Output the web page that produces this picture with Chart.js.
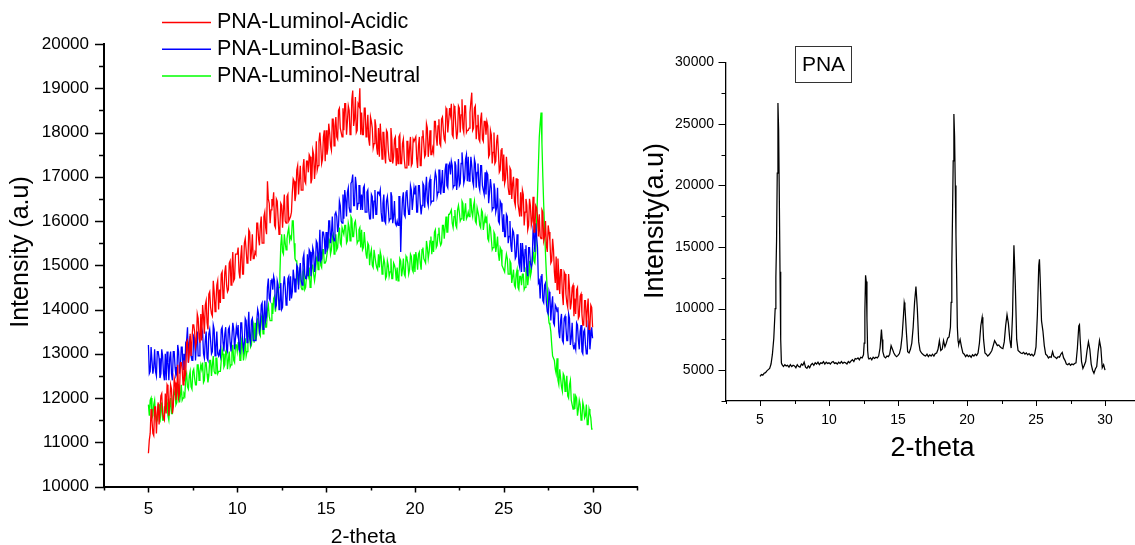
<!DOCTYPE html>
<html>
<head>
<meta charset="utf-8">
<script src="https://cdn.jsdelivr.net/npm/chart.js@4.4.1/dist/chart.umd.min.js"></script>
<style>
  html, body { margin:0; padding:0; background:#fff; overflow:hidden; }
  body { width:1135px; height:545px; position:relative; }
  .box { position:absolute; top:0; }
</style>
</head>
<body>
<div class="box" style="left:0;width:650px;height:550px"><canvas id="left" width="650" height="550" style="width:650px;height:550px"></canvas></div>
<div class="box" style="left:640px;width:510px;height:545px"><canvas id="right" width="510" height="545" style="width:510px;height:545px"></canvas></div>
<script>
// ---------------- DATA ----------------
// Left chart: readings at 2-theta = 5.0, 5.1, ... 30.0 (main) and 5.05, 5.15, ... 29.95 (mid)
const thetaStart = 5.0, thetaStep = 0.1;
const seriesNames = ['PNA-Luminol-Acidic', 'PNA-Luminol-Basic', 'PNA-Luminol-Neutral'];
const leftXTitle = '2-theta', leftYTitle = 'Intensity (a.u)';
const rightXTitle = '2-theta', rightYTitle = 'Intensity(a.u)';

const acidic = [
 10750,11200,11500,11150,11800,11650,11400,12050,11650,11500,
 11650,12250,11900,12200,11800,12350,12150,12000,12800,12650,
 12850,12550,13300,13000,12950,13650,13500,13250,13800,13250,
 13300,13850,14100,13700,14350,14050,13850,14400,14150,14650,
 14450,14800,14250,14850,14550,14450,15100,14950,14650,15250,
 15250,14850,15200,14800,15500,15350,15100,15750,15300,15150,
 15300,15950,15600,15900,15500,16100,15850,16900,16400,16250,
 16400,15900,16500,16050,15850,16350,16250,16000,16550,16000,
 16100,16650,16900,16600,17250,16950,16700,17200,16900,17350,
 17100,17450,16950,17500,17250,17150,17800,17700,17400,18050,
 18050,17650,18000,17600,18300,18150,17900,18500,18100,17900,
 18050,18650,18250,18500,18050,18950,18300,18000,18650,19000,
 18450,17950,18550,18050,17850,18350,18100,17750,18150,17500,
 17450,17850,18000,17500,18050,17600,17350,17850,17450,17900,
 17650,17900,17300,17750,17400,17200,17800,17650,17250,17850,
 17800,17400,17700,17250,17900,17750,17500,18100,17700,17500,
 17650,18250,17900,18150,17750,18300,18050,17800,18500,18250,
 18400,17950,18600,18150,18000,18550,18400,18100,18600,18000,
 18050,18450,18900,18100,18600,18150,17850,18300,17850,18250,
 17950,18150,17500,17950,17550,17300,17800,17550,17150,17650,
 17500,16950,17150,16600,17150,16850,16450,16950,16400,16100,
 16100,16600,16200,16350,15900,16350,16000,15750,16350,16100,
 16150,15600,16200,15650,15450,15900,15550,15100,15350,14600,
 14450,14800,14900,14350,14850,14350,14050,14500,14150,14550,
 14250,14450,13800,14300,13900,13650,14200,14000,13550,14100,
 13600
];
const acidicMid = [
 11050,11750,11200,11800,11200,11900,11400,12100,11550,12100,
 12300,11600,12300,11650,12450,11950,12750,12100,12800,12300,
 12450,13250,12800,13450,12950,13650,13150,13900,13350,13900,
 14100,13450,14200,13550,14400,13900,14650,13950,14550,14000,
 14150,14850,14350,15000,14400,15050,14550,15300,14700,15250,
 15400,14700,15450,14800,15600,15050,15800,15100,15700,15150,
 15250,15950,15450,16100,15500,16200,15700,16500,15950,16500,
 16650,15850,16450,15700,16400,15850,16600,15950,16600,16050,
 16200,16950,16450,17150,16600,17250,16700,17400,16850,17350,
 17500,16850,17600,16950,17800,17250,18000,17300,17900,17350,
 17500,18200,17700,18300,17700,18350,17850,18550,18000,18550,
 18650,17950,18600,17950,18750,18150,18800,18050,18600,17950,
 17950,18550,17900,18400,17700,18250,17650,18300,17650,18100,
 18200,17400,18000,17300,18000,17400,18100,17300,17850,17250,
 17300,17950,17300,17850,17200,17800,17250,17900,17300,17800,
 17900,17200,17900,17250,18050,17450,18200,17450,18050,17500,
 17550,18250,17700,18300,17700,18350,17850,18550,18000,18550,
 18650,17900,18550,17850,18600,18000,18750,18000,18600,18050,
 18100,18700,18050,18550,17850,18400,17800,18450,17800,18250,
 18250,17450,18050,17300,18000,17350,17950,17100,17600,16900,
 16850,17450,16750,17200,16500,17000,16350,16950,16250,16650,
 16700,15900,16500,15800,16500,15900,16550,15750,16300,15650,
 15650,16250,15550,16000,15300,15750,15050,15600,14850,15200,
 15150,14350,14900,14100,14800,14150,14800,14000,14500,13850,
 13900,14500,13850,14350,13650,14200,13600,14250,13600,14050
];

const basic = [
 13200,12600,13150,12700,12600,13050,12900,12550,12950,12400,
 12400,12800,12900,12550,13050,12700,12550,13050,12700,13150,
 13000,13250,13600,13250,12950,12850,13350,13250,12950,13450,
 13400,13000,13300,12900,13450,13300,13050,13550,13150,13000,
 13050,13550,13250,13450,13100,13550,13250,13050,13550,13350,
 13450,13100,13700,13300,13250,13750,13600,13350,13750,13300,
 13300,13750,13900,13600,14150,13850,13750,14500,14250,14650,
 14450,14650,14100,14550,14150,14000,14550,14500,14200,14750,
 14750,14400,14700,14400,14950,14850,14650,15150,14800,14700,
 14750,15300,15050,15300,15000,15500,15250,15100,15750,15600,
 15750,15400,16000,15700,15650,16150,16100,15900,16350,15950,
 16050,16500,16650,16300,16850,17050,16350,16800,16400,16800,
 16600,16750,16200,16650,16250,16050,16550,16450,16150,16650,
 16600,16200,16400,16000,16450,16300,16050,16550,16100,15950,
 16000,16550,15300,16500,16150,16650,16350,16150,16700,16500,
 16600,16200,16800,16400,16350,16800,16700,16450,16850,16400,
 16450,16900,17000,16650,17150,16850,16650,17150,16800,17250,
 17050,17250,16800,17250,16950,16800,17300,17250,16950,17500,
 17450,17000,17250,16800,17300,17100,16800,17250,16800,16600,
 16600,17050,16650,16750,16300,16700,16300,16000,16450,16150,
 16150,15650,16100,15650,15450,15800,15550,15200,15500,14950,
 14850,15250,15350,14900,15400,15050,15050,15700,15950,15400,
 14650,14750,14200,14550,14150,13900,14300,14100,13700,14100,
 13950,13500,13750,13300,13800,13600,13300,13800,13350,13200,
 13200,13700,13300,13500,13050,13500,13200,13000,13550,13350,
 13350
];
const basicMid = [
 12550,13150,12550,13100,12500,13050,12450,13100,12550,13000,
 13050,12400,13050,12400,13050,12500,13200,12550,13150,12650,
 12650,13300,12800,13400,12850,13400,12850,13500,12950,13450,
 13500,12900,13500,12850,13550,13000,13650,12950,13500,12950,
 12950,13600,13050,13600,13050,13600,13050,13700,13100,13600,
 13650,13050,13700,13100,13800,13250,13950,13250,13800,13300,
 13350,14000,13500,14100,13550,14200,13850,14700,14200,14700,
 14750,14050,14650,14000,14600,14050,14750,14100,14700,14200,
 14250,14900,14400,15000,14450,15050,14550,15250,14700,15250,
 15350,14750,15400,14850,15550,15100,15800,15150,15750,15250,
 15350,16000,15500,16100,15550,16200,15750,16450,16000,16600,
 16700,16100,16750,16200,16900,16350,17000,16250,16800,16250,
 16250,16800,16200,16700,16050,16600,16050,16700,16150,16650,
 16700,16000,16600,15950,16550,16000,16650,15950,16450,15900,
 15900,16550,16050,16650,16100,16700,16150,16800,16250,16750,
 16800,16200,16800,16150,16850,16300,17000,16350,16950,16450,
 16450,17100,16550,17150,16600,17150,16650,17300,16750,17300,
 17350,16750,17350,16700,17400,16850,17550,16850,17400,16900,
 16900,17450,16900,17400,16750,17300,16700,17250,16700,17100,
 17100,16400,16950,16250,16850,16200,16750,15950,16400,15750,
 15650,16150,15500,16000,15300,15750,15150,15700,15050,15500,
 15500,14850,15450,14750,15400,14950,15800,15300,15650,14600,
 14250,14800,14150,14600,13950,14400,13750,14300,13650,14050,
 14050,13350,13900,13250,13850,13300,13900,13200,13700,13100,
 13100,13650,13100,13650,13000,13550,13000,13650,13100,13600
];

const neutral = [
 11850,11950,11550,11850,11600,11500,11850,11700,11500,11800,
 11800,11600,11800,11650,12050,12050,11900,12300,12050,11950,
 12100,12450,12250,12500,12250,12600,12450,12300,12750,12600,
 12650,12350,12800,12550,12500,12850,12750,12600,12900,12550,
 12600,12850,13000,12750,13100,12850,12700,13050,12850,13200,
 13050,13250,12850,13200,13000,12950,13350,13350,13200,13650,
 13700,13450,13650,13400,13800,13750,13600,14000,13850,13750,
 13900,14300,14150,14400,14800,15700,15250,15500,15600,15850,
 15650,16000,15500,15100,14700,14900,14500,14850,14450,14750,
 14750,14500,15000,14800,14800,15200,15100,15000,15350,15050,
 15100,15400,15550,15350,15700,15500,15350,15700,15500,15850,
 15700,15900,15550,15850,16100,15650,15950,15800,15550,15850,
 15800,15400,15500,15150,15450,15250,15000,15350,15050,14900,
 14950,15200,14950,15050,14750,15000,14850,14700,15050,14900,
 14950,14700,15100,14900,14800,15200,15050,14900,15200,14850,
 14850,15150,15250,15050,15350,15150,15050,15400,15300,15650,
 15550,15750,15400,15700,15550,15500,15900,15850,15750,16150,
 16200,15950,16100,15900,16250,16200,16050,16400,16200,16050,
 16200,16500,16200,16350,16000,16300,16100,15850,16200,15950,
 15950,15600,15900,15600,15400,15700,15450,15250,15400,15000,
 14900,15100,15150,14800,15050,14750,14550,14800,14500,14750,
 14550,14800,14500,14850,14750,14750,15150,15100,15300,16600,
 17900,18450,17000,15800,14800,13900,13650,13200,12900,12650,
 12900,12300,12450,12150,12500,12350,12050,12300,11950,11750,
 11750,12000,11750,11850,11550,11800,11600,11400,11750,11550,
 11300
];
const neutralMid = [
 11600,12000,11600,11950,11450,11850,11450,11900,11500,11800,
 11900,11500,12000,11650,12150,11850,12300,11900,12300,12000,
 12050,12550,12200,12600,12200,12650,12300,12750,12400,12750,
 12800,12400,12800,12350,12850,12500,12950,12550,12900,12600,
 12600,13100,12700,13050,12650,13050,12750,13200,12800,13200,
 13250,12850,13300,12850,13350,13050,13500,13150,13550,13250,
 13300,13800,13450,13850,13450,13900,13600,14100,13750,14150,
 14250,13950,14450,14500,15450,15300,15700,15350,15750,15550,
 15600,16000,15150,15100,14550,14850,14450,14900,14500,14850,
 14950,14550,15000,14650,15150,14900,15350,14950,15350,15050,
 15100,15600,15250,15650,15250,15700,15400,15850,15450,15850,
 15900,15500,15950,15550,16050,15650,16000,15500,15800,15400,
 15350,15750,15250,15500,15000,15350,14950,15350,14950,15250,
 15300,14800,15150,14700,15100,14750,15150,14700,15000,14650,
 14650,15150,14750,15150,14750,15150,14800,15250,14900,15250,
 15300,14900,15300,14900,15400,15100,15550,15150,15550,15250,
 15300,15800,15450,15850,15450,15900,15600,16100,15750,16150,
 16250,15850,16250,15850,16350,16000,16450,16000,16400,16100,
 16100,16500,16100,16450,15950,16300,15900,16250,15800,16100,
 16050,15550,15850,15350,15750,15300,15650,15100,15350,14950,
 14850,15250,14800,15100,14600,14900,14500,14900,14450,14750,
 14800,14450,14900,14550,15100,14850,15300,15050,15950,17250,
 18200,17750,16350,15250,14450,13700,13500,12950,12850,12550,
 12400,12650,12250,12550,12150,12500,12000,12400,11850,12100,
 12050,11600,11950,11500,11900,11550,11850,11400,11650,11300
];

// Right chart (PNA): 2-theta positions and intensities
const pnaTheta = [
 5.0,5.1,5.2,5.3,5.4,5.5,5.6,5.7,5.8,5.9,6.0,6.1,6.15,6.2,6.25,6.3,6.35,6.4,6.45,6.5,6.55,6.6,
 6.7,6.8,6.9,7.0,7.1,7.2,7.3,7.4,7.5,7.6,7.7,7.8,7.9,8.0,8.1,8.2,8.3,8.4,8.5,8.6,
 8.7,8.8,8.9,9.0,9.1,9.2,9.3,9.4,9.5,9.6,9.7,9.8,9.9,10.0,10.1,10.2,10.3,10.4,10.5,10.6,
 10.7,10.8,10.9,11.0,11.1,11.2,11.3,11.4,11.5,11.6,11.7,11.8,11.9,12.0,12.1,12.2,12.3,12.4,12.5,12.55,
 12.6,12.65,12.7,12.75,12.8,12.85,12.9,13.0,13.1,13.2,13.3,13.4,13.5,13.6,13.7,13.8,13.85,13.9,14.0,14.1,
 14.2,14.3,14.4,14.5,14.6,14.7,14.8,14.9,15.0,15.1,15.2,15.3,15.4,15.45,15.5,15.6,15.7,15.8,15.9,16.0,
 16.1,16.2,16.3,16.4,16.5,16.6,16.7,16.8,16.9,17.0,17.1,17.2,17.3,17.4,17.5,17.6,17.7,17.8,17.9,18.0,
 18.1,18.2,18.3,18.4,18.5,18.6,18.7,18.8,18.85,18.9,18.95,19.0,19.05,19.1,19.15,19.2,19.25,19.3,19.35,19.4,
 19.5,19.6,19.7,19.8,19.9,
 20.0,20.1,20.2,20.3,20.4,20.5,20.6,20.7,20.8,20.9,21.0,21.1,21.15,21.2,21.3,21.4,21.5,21.6,21.7,21.8,
 21.9,22.0,22.1,22.2,22.3,22.4,22.5,22.6,22.7,22.8,22.9,23.0,23.1,23.2,23.3,23.4,23.5,23.6,23.7,23.8,
 23.9,24.0,24.1,24.2,24.3,24.4,24.5,24.6,24.7,24.8,24.9,25.0,25.1,25.2,25.25,25.3,25.4,25.5,25.6,25.7,
 25.8,25.9,26.0,26.1,26.2,26.3,26.4,26.5,26.6,26.7,26.8,26.9,27.0,27.1,27.2,27.3,27.4,27.5,27.6,27.7,
 27.8,27.9,28.0,28.1,28.15,28.2,28.3,28.4,28.5,28.6,28.7,28.8,28.9,29.0,29.1,29.2,29.3,29.4,29.5,29.6,
 29.7,29.8,29.9,30.0
];
const pnaIntensity = [
 4500,4650,4600,4750,4800,4950,5050,5150,5500,6300,7600,10000,12500,15500,21000,26700,24500,19000,13000,7500,5600,5450,
 5300,5450,5350,5400,5250,5450,5300,5400,5350,5200,5450,5300,5250,5500,5400,5650,5250,5150,5350,5200,
 5450,5550,5400,5600,5500,5650,5450,5600,5550,5700,5500,5650,5550,5600,5500,5650,5700,5550,5600,5500,
 5650,5550,5700,5550,5650,5600,5500,5700,5600,5750,5850,5700,5950,5900,6000,5850,6050,6000,6250,7200,
 9800,12700,12200,9200,6600,6000,5900,6000,5850,6050,5950,6050,6000,6150,6800,8300,7500,6500,6100,6000,
 6150,6100,6300,7000,6700,6400,6200,6100,6200,6350,6800,7800,9500,10500,10200,8200,6500,6400,6700,7200,
 8500,10500,11800,10000,7300,6600,6400,6300,6200,6150,6300,6100,6250,6150,6300,6150,6350,6400,6700,7400,
 6600,6700,7400,6900,7200,7600,7700,8500,10500,13500,17500,22000,25800,24000,20000,16000,12500,8500,7400,7100,
 7500,6900,6400,6300,6100,
 6250,6100,6200,6050,6250,6150,6300,6200,6400,7200,8600,9300,8700,7500,6400,6300,6150,6250,6400,6600,
 7000,7400,7200,7000,7050,6900,6800,6750,7300,8600,9500,8800,7500,6800,9500,15150,12000,7500,6600,6500,
 6400,6350,6450,6300,6400,6250,6350,6200,6300,6150,6300,6900,9500,13500,14000,12500,9000,8200,7000,6300,
 6200,6000,6100,6050,6500,6100,6050,5950,6100,6050,6300,6450,6000,5800,5500,5450,5550,5400,5500,5450,
 5550,5600,6800,8600,8700,7500,5700,5150,5400,5700,6600,7300,6700,5500,5000,4750,5100,5300,6500,7400,
 6800,5200,5450,5000
];

const seriesColors = ['#ff0000', '#0000ff', '#00ff00'];
const pnaLabel = 'PNA';

// ---------------- HELPERS ----------------
const FONT = "'Liberation Sans', Arial, Helvetica, sans-serif";
Chart.defaults.font.family = FONT;
Chart.defaults.color = '#000';

// merge main readings (x = start + i*step) with mid readings (x + step/2)
function toPoints(start, step, main, mid) {
  const pts = [];
  main.forEach((v, i) => {
    pts.push({ x: +(start + i * step).toFixed(2), y: v });
    if (i < mid.length) pts.push({ x: +(start + i * step + step / 2).toFixed(3), y: mid[i] });
  });
  return pts;
}

// plugin: outward major/minor tick marks
const tickMarks = {
  id: 'tickMarks',
  afterDraw(chart, args, o) {
    const ctx = chart.ctx, ca = chart.chartArea;
    ctx.save();
    ctx.strokeStyle = '#000';
    ctx.lineWidth = o.width;
    ctx.beginPath();
    const xs = chart.scales.x, ys = chart.scales.y;
    xs.ticks.forEach(t => {
      const p = Math.round(xs.getPixelForValue(t.value)) + 0.5;
      const major = Math.abs(t.value % o.xMajor) < 1e-6;
      const len = major ? o.xMajorLen : o.xMinorLen;
      ctx.moveTo(p, ca.bottom);
      ctx.lineTo(p, ca.bottom + len);
    });
    ys.ticks.forEach(t => {
      const p = Math.round(ys.getPixelForValue(t.value)) + 0.5;
      const major = Math.abs(t.value % o.yMajor) < 1e-6;
      const len = major ? o.yMajorLen : o.yMinorLen;
      ctx.moveTo(ca.left, p);
      ctx.lineTo(ca.left - len, p);
    });
    ctx.stroke();
    ctx.restore();
  }
};

// plugin: axis titles placed like the original figure
const axisTitles = {
  id: 'axisTitles',
  afterDraw(chart, args, o) {
    const ctx = chart.ctx;
    (o.items || []).forEach(it => {
      ctx.save();
      ctx.font = it.size + 'px ' + FONT;
      ctx.fillStyle = '#000';
      ctx.textAlign = 'center';
      ctx.textBaseline = 'middle';
      ctx.translate(it.x, it.y);
      if (it.rotate) ctx.rotate(-Math.PI / 2);
      ctx.fillText(it.text, 0, 0);
      ctx.restore();
    });
  }
};

// plugin: legend column for left chart
const sideLegend = {
  id: 'sideLegend',
  afterDraw(chart, args, o) {
    if (!o.show) return;
    const ctx = chart.ctx;
    ctx.save();
    ctx.font = o.fontSize + 'px ' + FONT;
    ctx.textBaseline = 'middle';
    ctx.textAlign = 'left';
    chart.data.datasets.forEach((ds, i) => {
      const y = o.y0 + i * o.dy;
      ctx.strokeStyle = ds.borderColor;
      ctx.lineWidth = 1.5;
      ctx.beginPath();
      ctx.moveTo(o.x0, y);
      ctx.lineTo(o.x0 + o.lineLen, y);
      ctx.stroke();
      ctx.fillStyle = '#000';
      ctx.fillText(ds.label, o.x0 + o.lineLen + o.gap, y);
    });
    ctx.restore();
  }
};

// plugin: boxed label for right chart
const boxLabel = {
  id: 'boxLabel',
  afterDraw(chart, args, o) {
    if (!o.show) return;
    const ctx = chart.ctx;
    ctx.save();
    ctx.strokeStyle = '#333';
    ctx.lineWidth = 1;
    ctx.strokeRect(o.x + 0.5, o.y + 0.5, o.w, o.h);
    ctx.font = o.fontSize + 'px ' + FONT;
    ctx.fillStyle = '#000';
    ctx.textAlign = 'center';
    ctx.textBaseline = 'middle';
    ctx.fillText(o.text, o.x + o.w / 2 + 0.5, o.y + o.h / 2 + 1);
    ctx.restore();
  }
};

// ---------------- LEFT CHART ----------------
new Chart(document.getElementById('left'), {
  type: 'line',
  data: {
    datasets: [
      { label: seriesNames[0], data: toPoints(thetaStart, thetaStep, acidic, acidicMid), borderColor: seriesColors[0] },
      { label: seriesNames[1], data: toPoints(thetaStart, thetaStep, basic, basicMid), borderColor: seriesColors[1] },
      { label: seriesNames[2], data: toPoints(thetaStart, thetaStep, neutral, neutralMid), borderColor: seriesColors[2] }
    ].map(d => Object.assign(d, { borderWidth: 1.3, pointRadius: 0, tension: 0, fill: false }))
  },
  options: {
    responsive: false, animation: false, devicePixelRatio: 1, events: [],
    layout: { padding: { left: 0, top: 44, right: 7, bottom: 0 } },
    plugins: {
      legend: { display: false }, tooltip: { enabled: false },
      tickMarks: { width: 1.5, xMajor: 5, yMajor: 1000, xMajorLen: 6, xMinorLen: 4, yMajorLen: 9, yMinorLen: 5 },
      sideLegend: { show: true, x0: 162, y0: 22.5, dy: 26.7, lineLen: 49, gap: 6, fontSize: 21.5 },
      axisTitles: { items: [
        { text: leftXTitle, x: 363.5, y: 537, size: 21, rotate: false },
        { text: leftYTitle, x: 21, y: 252, size: 25, rotate: true }
      ] }
    },
    scales: {
      x: {
        type: 'linear', min: 2.5, max: 32.5,
        grid: { display: false, drawTicks: false },
        border: { display: true, color: '#000', width: 2 },
        ticks: { stepSize: 2.5, autoSkip: false, maxRotation: 0, padding: 13, font: { size: 17 },
                 callback: v => (Math.abs(v % 5) < 1e-6 ? String(v) : '') },
        title: { display: false, text: leftXTitle },
        afterFit: s => { s.height = 550 - 486.5; }
      },
      y: {
        type: 'linear', min: 10000, max: 20000,
        grid: { display: false, drawTicks: false },
        border: { display: true, color: '#000', width: 2 },
        ticks: { stepSize: 500, autoSkip: false, padding: 15, font: { size: 17 },
                 callback: v => (v % 1000 === 0 ? String(v) : '') },
        title: { display: false, text: leftYTitle },
        afterFit: s => { s.width = 104; }
      }
    }
  },
  plugins: [tickMarks, sideLegend, axisTitles]
});

// ---------------- RIGHT CHART ----------------
new Chart(document.getElementById('right'), {
  type: 'line',
  data: {
    datasets: [{
      label: pnaLabel,
      data: pnaTheta.map((t, i) => ({ x: t, y: pnaIntensity[i] })),
      borderColor: '#000', borderWidth: 1.25, pointRadius: 0, tension: 0, fill: false
    }]
  },
  options: {
    responsive: false, animation: false, devicePixelRatio: 1, events: [],
    layout: { padding: { left: 0, top: 62.3, right: 6, bottom: 0 } },
    plugins: {
      legend: { display: false }, tooltip: { enabled: false },
      tickMarks: { width: 1, xMajor: 5, yMajor: 5000, xMajorLen: 5, xMinorLen: 3, yMajorLen: 7, yMinorLen: 4 },
      boxLabel: { show: true, x: 155, y: 46, w: 56, h: 36, text: pnaLabel, fontSize: 21 },
      axisTitles: { items: [
        { text: rightXTitle, x: 292.5, y: 449, size: 27, rotate: false },
        { text: rightYTitle, x: 15.5, y: 221, size: 27, rotate: true }
      ] }
    },
    scales: {
      x: {
        type: 'linear', min: 2.5, max: 32.5,
        grid: { display: false, drawTicks: false },
        border: { display: true, color: '#000', width: 1.3 },
        ticks: { stepSize: 2.5, autoSkip: false, maxRotation: 0, padding: 10.5, font: { size: 14 },
                 callback: v => (Math.abs(v % 5) < 1e-6 ? String(v) : '') },
        title: { display: false, text: rightXTitle },
        afterFit: s => { s.height = 545 - 401; }
      },
      y: {
        type: 'linear', min: 2500, max: 30000,
        grid: { display: false, drawTicks: false },
        border: { display: true, color: '#000', width: 1.3 },
        ticks: { stepSize: 2500, autoSkip: false, padding: 11.5, font: { size: 14 },
                 callback: v => (v % 5000 === 0 ? String(v) : '') },
        title: { display: false, text: rightYTitle },
        afterFit: s => { s.width = 85.5; }
      }
    }
  },
  plugins: [tickMarks, boxLabel, axisTitles]
});
</script>
</body>
</html>
